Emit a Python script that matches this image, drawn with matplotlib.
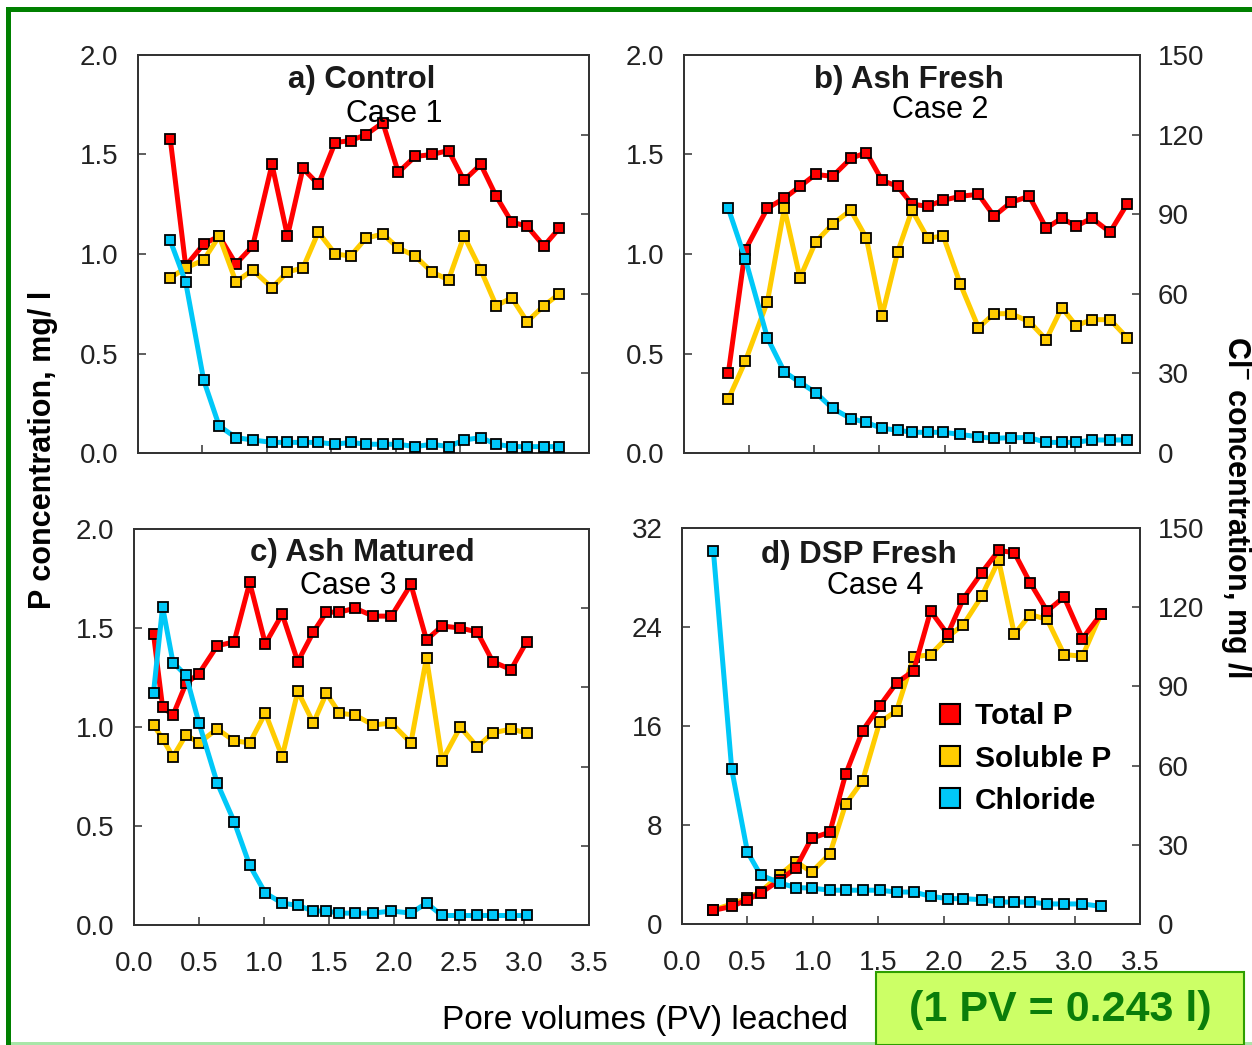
import matplotlib
matplotlib.use("Agg")
import matplotlib.pyplot as plt
from matplotlib import font_manager
from matplotlib.lines import Line2D
from matplotlib.patches import Rectangle

installed = {f.name for f in font_manager.fontManager.ttflist}
NARROW = "Liberation Sans Narrow" if "Liberation Sans Narrow" in installed else "Liberation Sans"
plt.rcParams["font.family"] = ["Liberation Sans", "DejaVu Sans"]
plt.rcParams["mathtext.default"] = "regular"

# --- data ------------------------------------------------------------------
# a) Control
pv_a = [0.25, 0.37, 0.51, 0.63, 0.76, 0.89, 1.04, 1.16, 1.28, 1.40, 1.53, 1.65, 1.77,
        1.90, 2.02, 2.15, 2.28, 2.41, 2.53, 2.66, 2.78, 2.90, 3.02, 3.15, 3.27]
tp_a = [1.58, 0.94, 1.05, 1.09, 0.95, 1.04, 1.45, 1.09, 1.43, 1.35, 1.56, 1.57, 1.60,
        1.66, 1.41, 1.49, 1.50, 1.52, 1.37, 1.45, 1.29, 1.16, 1.14, 1.04, 1.13]
sp_a = [0.88, 0.93, 0.97, 1.09, 0.86, 0.92, 0.83, 0.91, 0.93, 1.11, 1.00, 0.99, 1.08,
        1.10, 1.03, 0.99, 0.91, 0.87, 1.09, 0.92, 0.74, 0.78, 0.66, 0.74, 0.80]
cl_a = [80.1, 64.4, 27.4, 10.2, 5.8, 4.9, 4.0, 4.0, 4.0, 4.0, 3.3, 4.0, 3.3,
        3.3, 3.3, 2.4, 3.3, 2.4, 4.9, 5.8, 3.3, 2.4, 2.4, 2.4, 2.4]

# b) Ash Fresh
pv_b = [0.34, 0.47, 0.64, 0.77, 0.89, 1.01, 1.14, 1.28, 1.40, 1.52, 1.64, 1.75, 1.87,
        1.99, 2.12, 2.26, 2.38, 2.51, 2.65, 2.78, 2.90, 3.01, 3.13, 3.27, 3.40]
tp_b = [0.40, 1.02, 1.23, 1.28, 1.34, 1.40, 1.39, 1.48, 1.51, 1.37, 1.34, 1.25, 1.24,
        1.27, 1.29, 1.30, 1.19, 1.26, 1.29, 1.13, 1.18, 1.14, 1.18, 1.11, 1.25]
sp_b = [0.27, 0.46, 0.76, 1.23, 0.88, 1.06, 1.15, 1.22, 1.08, 0.69, 1.01, 1.22, 1.08,
        1.09, 0.85, 0.63, 0.70, 0.70, 0.66, 0.57, 0.73, 0.64, 0.67, 0.67, 0.58]
cl_b = [92.2, 73.2, 43.4, 30.6, 26.6, 22.8, 16.8, 13.0, 11.5, 9.3, 8.6, 7.8, 7.8,
        7.8, 7.0, 6.1, 5.5, 5.8, 5.8, 4.0, 4.0, 4.0, 4.9, 4.9, 4.9]

# c) Ash Matured
pv_c = [0.15, 0.22, 0.30, 0.40, 0.50, 0.64, 0.77, 0.89, 1.01, 1.14, 1.26, 1.38, 1.48,
        1.58, 1.70, 1.84, 1.98, 2.13, 2.25, 2.37, 2.51, 2.64, 2.76, 2.90, 3.02]
tp_c = [1.47, 1.10, 1.06, 1.22, 1.27, 1.41, 1.43, 1.73, 1.42, 1.57, 1.33, 1.48, 1.58,
        1.58, 1.60, 1.56, 1.56, 1.72, 1.44, 1.51, 1.50, 1.48, 1.33, 1.29, 1.43]
sp_c = [1.01, 0.94, 0.85, 0.96, 0.92, 0.99, 0.93, 0.92, 1.07, 0.85, 1.18, 1.02, 1.17,
        1.07, 1.06, 1.01, 1.02, 0.92, 1.35, 0.83, 1.00, 0.90, 0.97, 0.99, 0.97]
cl_c = [88.0, 120.5, 99.4, 94.6, 76.5, 53.8, 39.2, 22.6, 12.1, 8.3, 7.4, 5.3, 5.3,
        4.5, 4.5, 4.5, 5.3, 4.5, 8.3, 3.6, 3.6, 3.6, 3.6, 3.6, 3.6]

# d) DSP Fresh
pv_d = [0.24, 0.38, 0.50, 0.60, 0.75, 0.87, 0.99, 1.13, 1.25, 1.38, 1.51, 1.64,
        1.77, 1.90, 2.03, 2.15, 2.29, 2.42, 2.54, 2.66, 2.79, 2.92, 3.06, 3.20]
tp_d = [1.10, 1.42, 1.96, 2.5, 3.57, 4.52, 6.93, 7.42, 12.09, 15.62, 17.61, 19.49,
        20.46, 25.29, 23.41, 26.29, 28.39, 30.19, 30.0, 27.58, 25.29, 26.42, 23.06, 25.02]
sp_d = [1.15, 1.6, 2.1, 2.6, 3.98, 5.05, 4.19, 5.67, 9.67, 11.58, 16.29, 17.23,
        21.58, 21.77, 23.2, 24.19, 26.48, 29.38, 23.41, 25.0, 24.62, 21.77, 21.64, 25.02]
cl_d = [141.3, 58.6, 27.3, 18.6, 15.5, 13.8, 13.6, 12.8, 12.8, 12.8, 12.8, 12.1,
        12.1, 10.5, 9.6, 9.6, 9.2, 8.3, 8.3, 8.3, 7.6, 7.6, 7.6, 6.7]

titles = ["a) Control", "b) Ash Fresh", "c) Ash Matured", "d) DSP Fresh"]
cases = ["Case 1", "Case 2", "Case 3", "Case 4"]
series_names = ["Total P", "Soluble P", "Chloride"]
x_ticks = [0.0, 0.5, 1.0, 1.5, 2.0, 2.5, 3.0, 3.5]
p_ticks = [0.0, 0.5, 1.0, 1.5, 2.0]
p_ticks_d = [0, 8, 16, 24, 32]
cl_ticks = [0, 30, 60, 90, 120, 150]

RED, YEL, CYAN = "#FF0000", "#FFCC00", "#00C8F8"
colors = [RED, YEL, CYAN]

W, H = 1252, 1045
fig = plt.figure(figsize=(W / 100, H / 100), dpi=100)


def add_ax(l, t, r, b):
    return fig.add_axes([l / W, 1 - b / H, (r - l) / W, (b - t) / H])


boxes = [(138, 55, 589, 453), (684, 55, 1140, 453),
         (134, 529, 589, 925), (682, 528, 1140, 924)]
data = [(pv_a, tp_a, sp_a, cl_a), (pv_b, tp_b, sp_b, cl_b),
        (pv_c, tp_c, sp_c, cl_c), (pv_d, tp_d, sp_d, cl_d)]
title_pos = [((0.497, 0.937), (0.568, 0.852)), ((0.493, 0.937), (0.561, 0.862)),
             ((0.501, 0.939), (0.470, 0.856)), ((0.386, 0.932), (0.421, 0.854))]

line_kw = dict(lw=3.6, marker="s", ms=7.8, mec="black", mew=1.3)
tick_font = dict(family=[NARROW, "DejaVu Sans"], size=20)

for i, (box, (pv, tp, sp, cl)) in enumerate(zip(boxes, data)):
    ax = add_ax(*box)
    if i == 3:
        # in panel d the total P trace sits over the soluble one
        ax.plot(pv, sp, color=YEL, zorder=2, **line_kw)
        ax.plot(pv, tp, color=RED, zorder=3, **line_kw)
        ax.set_ylim(0, 32)
        ax.set_yticks(p_ticks_d)
        ax.set_yticklabels([str(v) for v in p_ticks_d])
    else:
        ax.plot(pv, tp, color=RED, zorder=2, **line_kw)
        ax.plot(pv, sp, color=YEL, zorder=3, **line_kw)
        ax.set_ylim(0, 2.0)
        ax.set_yticks(p_ticks)
        ax.set_yticklabels([f"{v:.1f}" for v in p_ticks])
    ax.set_xlim(0, 3.5)
    ax.set_xticks(x_ticks)
    if i >= 2:
        ax.set_xticklabels([f"{v:.1f}" for v in x_ticks])
    else:
        ax.set_xticklabels([])
    ax.tick_params(axis="both", direction="in", length=6, width=1.1, colors="#333333",
                   top=False, right=False)
    ax.tick_params(axis="y", pad=14)
    ax.tick_params(axis="x", pad=19)
    for lab in ax.get_xticklabels() + ax.get_yticklabels():
        lab.set_fontproperties(font_manager.FontProperties(**tick_font))
        lab.set_color("#222222")

    ax2 = ax.twinx()
    ax2.plot(pv, cl, color=CYAN, zorder=3, **line_kw)
    ax2.set_ylim(0, 150)
    ax2.set_yticks(cl_ticks)
    ax2.tick_params(axis="y", direction="in", length=6, width=1.1, colors="#333333", pad=13)
    if i in (1, 3):
        ax2.set_yticklabels([str(v) for v in cl_ticks])
        for lab in ax2.get_yticklabels():
            lab.set_fontproperties(font_manager.FontProperties(**tick_font))
            lab.set_color("#222222")
    else:
        ax2.set_yticklabels([])

    for a in (ax, ax2):
        for s in a.spines.values():
            s.set_linewidth(1.3)
            s.set_color("#333333")

    (tx, ty), (cx, cy) = title_pos[i]
    ax.text(tx, ty, titles[i], transform=ax.transAxes, ha="center", va="center",
            fontsize=22.5, fontweight="bold", color="#1a1a1a", zorder=10)
    ax2.text(cx, cy, cases[i], transform=ax.transAxes, ha="center", va="center",
             fontsize=22, color="black", zorder=10)

    if i == 3:
        handles = [Line2D([], [], ls="none", marker="s", ms=15, mfc=c, mec="black", mew=1.5)
                   for c in colors]
        ax2.legend(handles, series_names, loc="upper left", bbox_to_anchor=(0.555, 0.56),
                   frameon=False, handlelength=0.9, handletextpad=0.4, labelspacing=0.48,
                   borderaxespad=0, borderpad=0,
                   prop=dict(family="Liberation Sans", weight="bold", size=21.5))

# axis titles
fig.text(43 / W, 1 - 450 / H, "P concentration, mg/ l", rotation=90, ha="center",
         va="center", fontsize=22, fontweight="bold", color="black")
fig.text(1236 / W, 1 - 507 / H, "Cl$^{-}$ concentration, mg /l", rotation=-90,
         ha="center", va="center", fontsize=22, fontweight="bold", color="black")
fig.text(645 / W, 1 - 1020 / H, "Pore volumes (PV) leached", ha="center", va="center",
         fontsize=24, color="black")

# note box
fig.patches.append(Rectangle((876 / W, 0), (1244 - 876) / W, (1045 - 972) / H,
                             transform=fig.transFigure, facecolor="#CCFF66",
                             edgecolor="#2E9E00", lw=1.5, zorder=5))
fig.text(1060 / W, 1 - 1010 / H, "(1 PV = 0.243 l)", ha="center", va="center",
         fontsize=31, fontweight="bold", color="#0A7D0A", zorder=6)

# slide frame
fig.patches.append(Rectangle((6 / W, 1 - 12 / H), 1, 5 / H, transform=fig.transFigure,
                             facecolor="#008000", edgecolor="none", zorder=4))
fig.patches.append(Rectangle((6 / W, 0), 5 / W, 1 - 7 / H, transform=fig.transFigure,
                             facecolor="#008000", edgecolor="none", zorder=4))
fig.patches.append(Rectangle((11 / W, 0), 1, 3 / H, transform=fig.transFigure,
                             facecolor="#A8E6A8", edgecolor="none", zorder=3))

fig.savefig("out.png", dpi=100)
